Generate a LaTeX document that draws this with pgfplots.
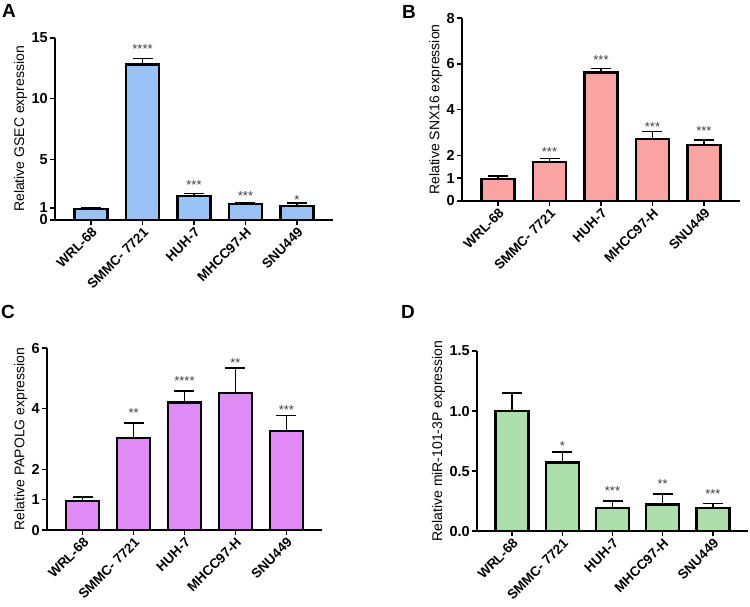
\documentclass[border=0pt]{standalone}
\usepackage{pgfplots}
\pgfplotsset{compat=1.18}
\usepackage{fontspec}
\setmainfont{Liberation Sans}
\definecolor{cA}{RGB}{153,194,247}
\definecolor{cB}{RGB}{249,163,163}
\definecolor{cC}{RGB}{224,139,245}
\definecolor{cD}{RGB}{173,223,173}
\pgfplotsset{
  panel/.style={
    scale only axis,
    anchor=south west,
    axis x line*=bottom, axis y line*=left,
    axis line style={line width=1.8pt,-},
    xmin=-0.7, xmax=4.7,
    xtick={0,1,2,3,4},
    xticklabels={WRL-68,SMMC- 7721,HUH-7,MHCC97-H,SNU449},
    x tick label style={rotate=45, anchor=north east, font=\bfseries\fontsize{13.5}{14}\selectfont, inner sep=1pt},
    y tick label style={font=\bfseries\fontsize{14.5}{14.5}\selectfont, inner sep=2pt},
    /pgf/number format/assume math mode=true,
    tick align=outside,
    major tick length=5pt,
    tick style={line width=1.5pt, black},
    ylabel style={font=\fontsize{14}{14}\selectfont, yshift=-1pt},
    ymin=0,
    clip=false,
  },
  bars/.style={ybar, bar width=33pt, draw=black, line width=2.4pt, fill=#1,
    error bars/y dir=plus, error bars/y explicit,
    error bars/error mark=|,
    error bars/error bar style={line width=1.6pt, black},
    error bars/error mark options={line width=1.6pt, black, mark size=10pt}},
  stars/.style={draw=none, mark=none, nodes near coords, point meta=explicit symbolic,
    nodes near coords style={font=\fontsize{13}{13}\selectfont, anchor=center, inner sep=0pt, text=black!75}},
}
\begin{document}
\begin{tikzpicture}
\useasboundingbox (0,0) rectangle (750pt,-606pt);
% A
\begin{axis}[panel, at={(55pt,-220pt)}, width=278pt, height=182pt,
  ymax=15, ytick={0,1,5,10,15}, ylabel={Relative GSEC expression}]
\addplot[bars=cA] coordinates {(0,0.92) +- (0,0.08) (1,12.8) +- (0,0.5) (2,1.98) +- (0,0.22) (3,1.32) +- (0,0.11) (4,1.16) +- (0,0.24)};
\addplot[stars] coordinates {(1,14.1) [****] (2,2.85) [***] (3,2.0) [***] (4,1.62) [*]};
\end{axis}
% B
\begin{axis}[panel, at={(462pt,-201pt)}, width=278pt, height=183pt,
  ymax=8, ytick={0,1,2,4,6,8}, ylabel={Relative SNX16 expression}]
\addplot[bars=cB] coordinates {(0,0.95) +- (0,0.15) (1,1.71) +- (0,0.15) (2,5.61) +- (0,0.19) (3,2.70) +- (0,0.33) (4,2.44) +- (0,0.22)};
\addplot[stars] coordinates {(1,2.15) [***] (2,6.17) [***] (3,3.25) [***] (4,3.06) [***]};
\end{axis}
% C
\begin{axis}[panel, at={(47pt,-530pt)}, width=275pt, height=182pt,
  ymax=6, ytick={0,1,2,4,6}, ylabel={Relative PAPOLG expression}]
\addplot[bars=cC] coordinates {(0,0.96) +- (0,0.12) (1,3.03) +- (0,0.49) (2,4.21) +- (0,0.38) (3,4.51) +- (0,0.83) (4,3.27) +- (0,0.50)};
\addplot[stars] coordinates {(1,3.85) [**] (2,4.9) [****] (3,5.5) [**] (4,3.95) [***]};
\end{axis}
% D
\begin{axis}[panel, at={(477pt,-531pt)}, width=271pt, height=180pt,
  ymax=1.5, ytick={0,0.5,1.0,1.5}, ylabel={Relative miR-101-3P expression},
  yticklabel style={/pgf/number format/.cd, fixed, fixed zerofill, precision=1}]
\addplot[bars=cD] coordinates {(0,1.0) +- (0,0.15) (1,0.57) +- (0,0.09) (2,0.19) +- (0,0.06) (3,0.22) +- (0,0.09) (4,0.19) +- (0,0.04)};
\addplot[stars] coordinates {(1,0.705) [*] (2,0.335) [***] (3,0.395) [**] (4,0.305) [***]};
\end{axis}
\node[font=\bfseries\fontsize{19}{19}\selectfont] at (9pt,-11pt) {A};
\node[font=\bfseries\fontsize{19}{19}\selectfont] at (409pt,-12pt) {B};
\node[font=\bfseries\fontsize{19}{19}\selectfont] at (8pt,-312pt) {C};
\node[font=\bfseries\fontsize{19}{19}\selectfont] at (408pt,-312pt) {D};
\end{tikzpicture}
\end{document}
